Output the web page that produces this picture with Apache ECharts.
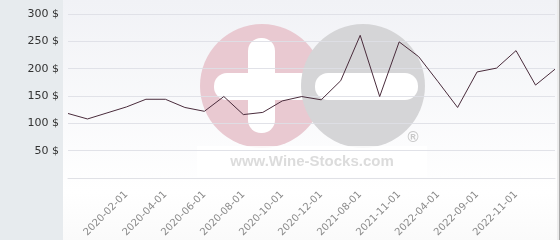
<!DOCTYPE html>
<html>
<head>
<meta charset="utf-8">
<script src="https://cdn.jsdelivr.net/npm/echarts@6/dist/echarts.min.js"></script>
<style>html,body{margin:0;padding:0;background:#fff;}#c{width:560px;height:240px;}</style>
</head>
<body>
<div id="c"></div>
<script>
var categories = [
  '2019-11-01','2019-12-01','2020-01-01','2020-02-01','2020-03-01','2020-04-01',
  '2020-05-01','2020-06-01','2020-07-01','2020-08-01','2020-09-01','2020-10-01',
  '2020-11-01','2020-12-01','2021-05-01','2021-08-01','2021-10-01','2021-11-01',
  '2022-01-01','2022-04-01','2022-07-01','2022-09-01','2022-10-01','2022-11-01',
  '2022-12-01','2023-01-01'
];
var prices = [118,108,119,130,144,144,129,122,149,116,120,141,149,143,178,261,149,249,222,176,129,194,201,233,170,199];
var shownLabels = ['2020-02-01','2020-04-01','2020-06-01','2020-08-01','2020-10-01','2020-12-01','2021-08-01','2021-11-01','2022-04-01','2022-09-01','2022-11-01'];
var yTicks = [0,50,100,150,200,250,300];

var chart = echarts.init(document.getElementById('c'), null, {renderer:'canvas'});
chart.setOption({
  animation: false,
  backgroundColor: '#ffffff',
  graphic: [
    {type:'rect', z:-100, shape:{x:63,y:0,width:496,height:240},
     style:{fill:new echarts.graphic.LinearGradient(0,0,0,1,[
       {offset:0,color:'#f1f2f6'},{offset:0.8,color:'#ffffff'},{offset:1,color:'#fafafa'}])}},
    {type:'rect', z:-100, shape:{x:0,y:0,width:63,height:240}, style:{fill:'#e7ebee'}},
    {type:'rect', z:-100, shape:{x:557,y:0,width:2,height:240}, style:{fill:'#ececec'}},
    {type:'rect', z:-100, shape:{x:559,y:0,width:1,height:240}, style:{fill:'#a8a8a8'}},
    {type:'circle', z:-90, shape:{cx:262,cy:86,r:62}, style:{fill:'#e9c9d1'}},
    {type:'rect', z:-89, shape:{x:248,y:38,width:27,height:95,r:13}, style:{fill:'#ffffff'}},
    {type:'rect', z:-89, shape:{x:214,y:73,width:100,height:27,r:13}, style:{fill:'#ffffff'}},
    {type:'circle', z:-88, shape:{cx:363,cy:86,r:62}, style:{fill:'#d5d5d7'}},
    {type:'rect', z:-87, shape:{x:315,y:73,width:103,height:27,r:13}, style:{fill:'#ffffff'}},
    {type:'text', z:-87, x:413, y:138, style:{text:'®', fill:'#c8c8c8', font:'bold 15px "Liberation Sans"', align:'center', verticalAlign:'middle'}},
    {type:'rect', z:-86, shape:{x:197,y:146,width:230,height:31}, style:{fill:'rgba(255,255,255,0.85)'}},
    {type:'text', z:-85, x:312, y:162, style:{text:'www.Wine-Stocks.com', fill:'#dcdcdc', font:'bold 15px "Liberation Sans"', align:'center', verticalAlign:'middle'}}
  ],
  grid: {left:68, right:5, top:14, bottom:62, containLabel:false},
  xAxis: {
    type:'category', data:categories, boundaryGap:false, z:10,
    axisLine:{show:true, lineStyle:{color:'#e0e1e6'}},
    axisTick:{show:false},
    splitLine:{show:false},
    axisLabel:{
      rotate:45, margin:15, color:'#8a8a8a', fontSize:10, fontFamily:'DejaVu Sans',
      interval:function(i, v){ return shownLabels.indexOf(v) >= 0; }
    }
  },
  yAxis: {
    type:'value', min:yTicks[0], max:yTicks[yTicks.length-1], interval:50, z:10,
    axisLine:{show:false}, axisTick:{show:false},
    splitLine:{show:true, lineStyle:{color:'rgba(222,223,230,0.9)', width:1}},
    axisLabel:{
      margin:9, color:'#333', fontSize:11, fontFamily:'DejaVu Sans',
      formatter:function(v){ return v === 0 ? '' : v + ' $'; }
    }
  },
  series: [{
    type:'line', data:prices, symbol:'none', smooth:false, z:20,
    lineStyle:{color:'#4a2c3c', width:1}
  }]
});
</script>
</body>
</html>
